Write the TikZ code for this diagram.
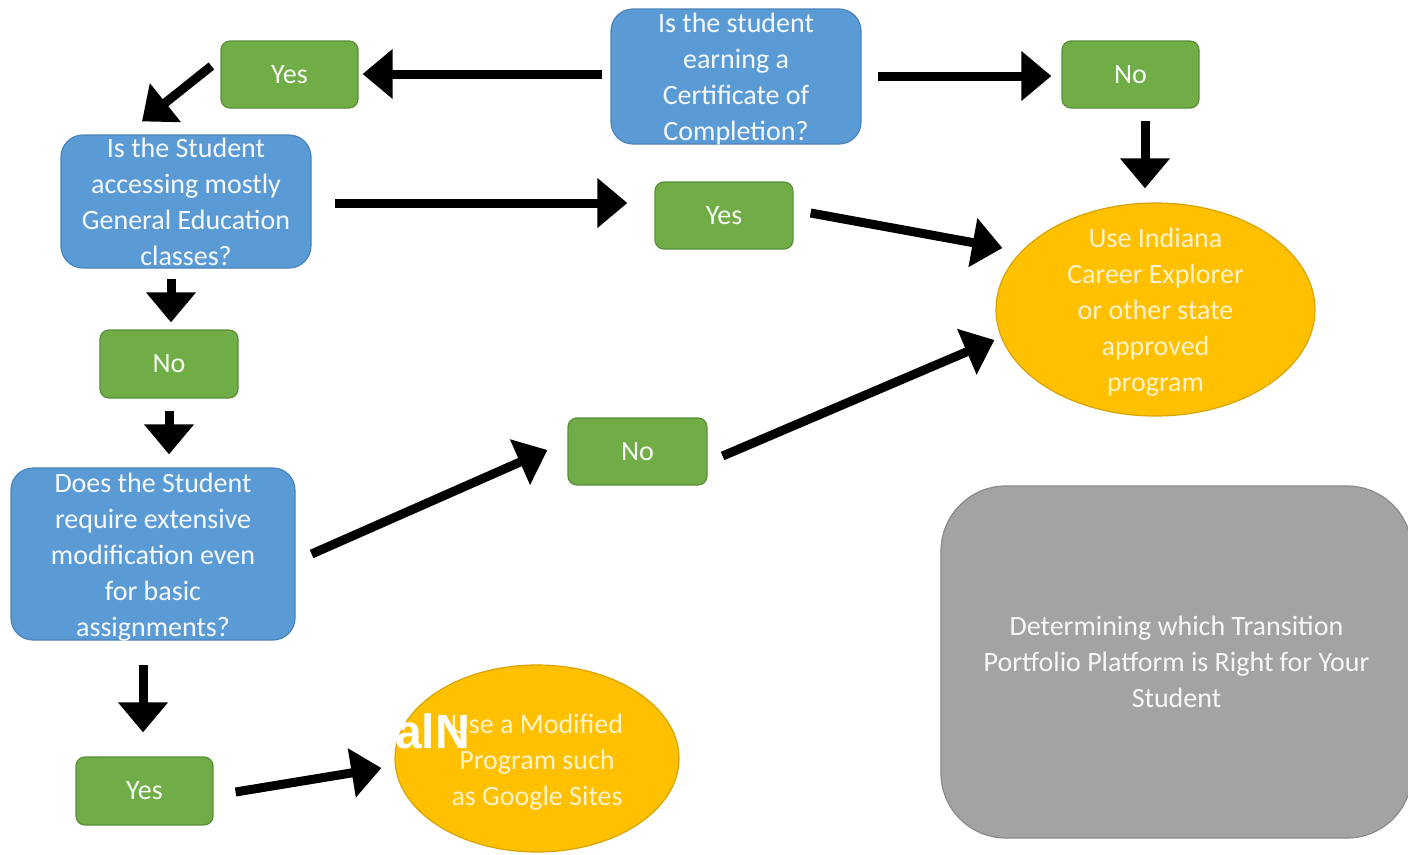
\documentclass[tikz,border=0pt]{standalone}
\usepackage{fontspec}
\setmainfont{Carlito}
\newfontfamily\stampfont{Liberation Sans}
\usetikzlibrary{arrows.meta,shapes.geometric}

\definecolor{qblue}{HTML}{5B9BD5}
\definecolor{qblueedge}{HTML}{4A84BA}
\definecolor{agreen}{HTML}{70AD47}
\definecolor{agreenedge}{HTML}{5A8F38}
\definecolor{ported}{HTML}{FFC000}
\definecolor{portedge}{HTML}{D9A300}
\definecolor{titlegray}{HTML}{A3A3A3}
\definecolor{titleedge}{HTML}{8A8A8A}
\definecolor{creamtext}{HTML}{FFF3CC}

\tikzset{
  every node/.style={font=\fontsize{28}{36}\selectfont, inner sep=0pt, align=center},
  question/.style={rectangle, rounded corners=22pt, fill=qblue, draw=qblueedge,
    line width=1.2pt, text=white, text opacity=0.95},
  answer/.style={rectangle, rounded corners=9pt, fill=agreen, draw=agreenedge,
    line width=1.2pt, text=white, text opacity=0.95, minimum width=137pt, minimum height=67pt},
  outcome/.style={ellipse, fill=ported, draw=portedge, line width=1.2pt},
  titlebox/.style={rectangle, rounded corners=65pt, fill=titlegray, draw=titleedge,
    line width=1.2pt, text=white, text opacity=0.92},
  qtext/.style={text=white, text opacity=0.95},
  otext/.style={text=creamtext},
  arr/.style={line width=9pt, -{Triangle[length=30pt,width=48pt]}}
}

\begin{document}
\begin{tikzpicture}[x=1pt, y=-1pt]
  \useasboundingbox (0,0) rectangle (1408,854);
  \fill[white] (0,0) rectangle (1408,854);

  % decision boxes
  \node[question, minimum width=250pt, minimum height=135pt] (q1) at (736,76.5) {};
  \node[qtext] (q1text) at ([yshift=-3pt]q1.center)
    {Is the student\\earning a\\Certificate of\\Completion?};
  \node[question, minimum width=250pt, minimum height=133pt] (q2) at (186,201.5)
    {Is the Student\\accessing mostly\\General Education\\classes?};
  \node[question, minimum width=284pt, minimum height=172pt] (q3) at (153,554) {};
  \node[qtext] (q3text) at ([yshift=-3pt]q3.center)
    {Does the Student\\require extensive\\modification even\\for basic\\assignments?};

  % answers
  \node[answer] (yes1) at (289.5,74.5) {Yes};
  \node[answer] (no1) at (1130.5,74.5) {No};
  \node[answer, minimum width=138pt] (yes2) at (724,215.5) {Yes};
  \node[answer, minimum width=138pt, minimum height=68pt] (no2) at (169,364) {No};
  \node[answer, minimum width=139pt] (no3) at (637.5,451.5) {No};
  \node[answer, minimum height=68pt] (yes3) at (144.5,791) {Yes};

  % outcomes
  \node[outcome, minimum width=319pt, minimum height=213pt] (e1) at (1155.5,309.5) {};
  \node[otext] (e1text) at ([yshift=-3pt]e1.center)
    {Use Indiana\\Career Explorer\\or other state\\approved\\program};
  \node[outcome, minimum width=284pt, minimum height=187pt] (e2) at (537,758.5) {};
  \node[otext] (e2text) at ([yshift=-4pt]e2.center)
    {Use a Modified\\Program such\\as Google Sites};

  % title panel
  \node[titlebox, minimum width=471pt, minimum height=352pt] (title) at (1176.5,662)
    {Determining which Transition\\Portfolio Platform is Right for Your\\Student};

  % stamp over the lower outcome
  \node[anchor=base east, font=\stampfont\bfseries\fontsize{48}{48}\selectfont, text=white]
    (stamp) at (470,748) {alN};

  % connectors
  \draw[arr] ([shift={(-8,-2.5)}]q1.west) -- ([shift={(4,-0.5)}]yes1.east);
  \draw[arr] ([shift={(16,-0.5)}]q1.east) -- ([shift={(-10,1.5)}]no1.west);
  \draw[arr] ([shift={(-9,-8.5)}]yes1.west) -- ([shift={(-44,-13)}]q2.north);
  \draw[arr] ([shift={(14.5,12)}]no1.south) -- ([shift={(-10.5,-14)}]e1.north);
  \draw[arr] ([shift={(23,1.5)}]q2.east) -- ([shift={(-27,-12.5)}]yes2.west);
  \draw[arr] ([shift={(17,-2.5)}]yes2.east) -- ([shift={(7,-61.5)}]e1.west);
  \draw[arr] ([shift={(-15,10)}]q2.south) -- ([shift={(2,-7)}]no2.north);
  \draw[arr] ([shift={(0,12)}]no2.south) -- ([shift={(16,-13)}]q3.north);
  \draw[arr] ([shift={(16,0)}]q3.east) -- ([shift={(-20,-1.5)}]no3.west);
  \draw[arr] ([shift={(15,4.5)}]no3.east) -- ([shift={(-1,30.5)}]e1.west);
  \draw[arr] ([shift={(-10,24)}]q3.south) -- ([shift={(-1.5,-24)}]yes3.north);
  \draw[arr] ([shift={(22,1)}]yes3.east) -- ([shift={(-13,9.5)}]e2.west);
\end{tikzpicture}
\end{document}
